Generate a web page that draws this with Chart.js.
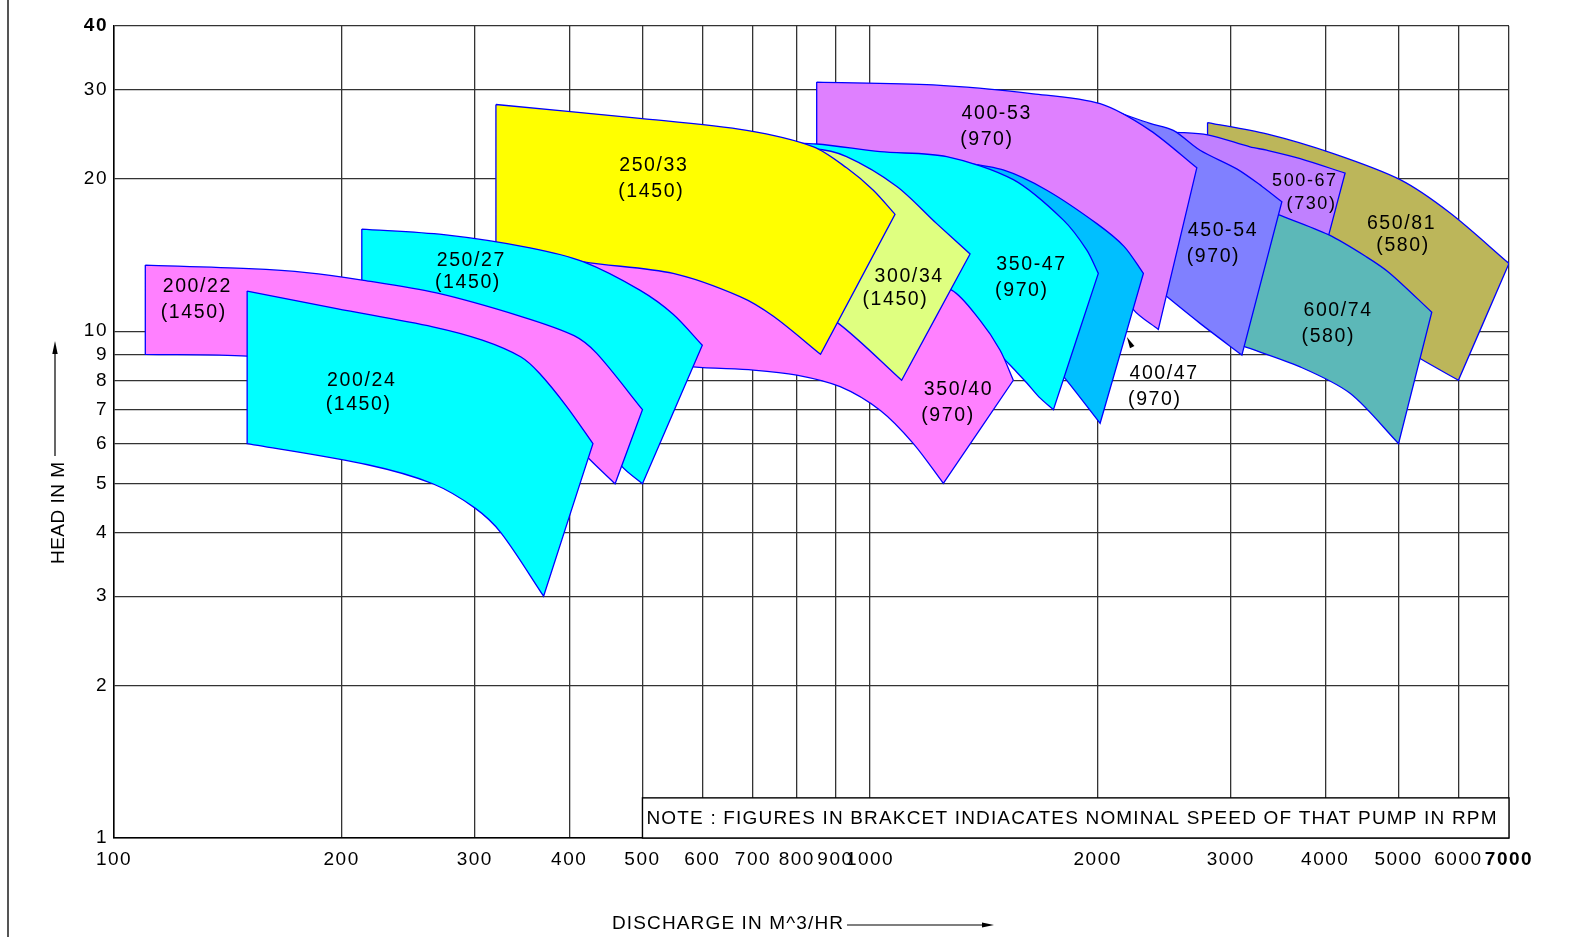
<!DOCTYPE html>
<html>
<head>
<meta charset="utf-8">
<title>Pump selection chart</title>
<script src="https://cdn.jsdelivr.net/npm/chart.js@4.4.1/dist/chart.umd.min.js"></script>
<style>
  html, body { margin: 0; padding: 0; background: #fff; overflow: hidden; }
  #wrap { position: relative; width: 1583px; height: 937px; }
</style>
</head>
<body>
<div id="wrap"><canvas id="c" width="1583" height="937"></canvas></div>
<script>
// ---------------- data (discharge m^3/hr, head m) ----------------
const xTicks = [100, 200, 300, 400, 500, 600, 700, 800, 900, 1000, 2000, 3000, 4000, 5000, 6000, 7000];
const yTicks = [1, 2, 3, 4, 5, 6, 7, 8, 9, 10, 20, 30, 40];

const pumpModels = ['200/22', '200/24', '250/27', '250/33', '300/34', '350/40', '350-47', '400/47', '400-53', '450-54', '500-67', '600/74', '650/81'];
const pumpSpeeds = ['(1450)', '(1450)', '(1450)', '(1450)', '(1450)', '(970)', '(970)', '(970)', '(970)', '(970)', '(730)', '(580)', '(580)'];

// outline of each operating region: top curve (left->right), right edge, bottom curve (right->left)
const pump_200_22 = [[110,13.5],[150.8,13.28],[179.7,13.05],[214,12.6],[267,11.9],[345,10.7],[406,9.8],[435,9.04],[500,7.0],[460,5.0],[425,5.6],[400,6.2],[360,6.9],[310,7.5],[260,8.1],[200,8.6],[150,8.93],[110,9.0]];
const pump_200_24 = [[150,12.0],[197,11.08],[264,10.2],[307,9.6],[345,8.9],[365.6,8.25],[397,7.1],[430,6.0],[370,3.0],[325,4.0],[300,4.48],[264,5.0],[216.5,5.45],[150,6.0]];
const pump_250_27 = [[212.7,15.9],[273,15.5],[355,14.6],[418,13.7],[496,12.05],[549,10.8],[600,9.38],[500,5.0],[469.6,5.41],[430,6.5],[380,8.0],[300,9.3],[212.7,10.0]];
const pump_250_33 = [[320,28.0],[496,26.3],[687,24.9],[842,23.1],[931,21.0],[1010,18.97],[1079,17.0],[860,9.0],[745,10.7],[673,11.7],[549,13.0],[418,13.7],[320,14.8]];
const pump_300_34 = [[650,22.8],[842,22.9],[931,22.1],[1085,19.3],[1225,16.3],[1356,14.2],[1101,8.0],[908,10.36],[780,11.8],[650,12.5]];
const pump_350_40 = [[400,14.0],[500,13.8],[650,13.3],[850,12.8],[1000,12.5],[1150,12.3],[1282,12.05],[1398,10.5],[1486,9.17],[1547,8.0],[1250,5.01],[1141,6.0],[1031,6.98],[913,7.77],[800,8.19],[701,8.38],[584,8.5],[500,8.8],[400,9.0]];
const pump_350_47 = [[700,23.6],[850,23.4],[1031,22.6],[1263,22.1],[1547,19.9],[1802,16.56],[1935,14.45],[2004,13.0],[1748,7.0],[1672,7.42],[1612,7.9],[1547,8.44],[1486,9.0],[1400,10.2],[1282,11.9],[1150,13.5],[1000,14.8],[850,15.0],[700,15.0]];
const pump_400_47 = [[900,22.9],[1100,22.3],[1300,21.6],[1500,20.8],[1713,18.97],[1995,16.3],[2167,14.7],[2299,13.0],[2015,6.58],[1811,8.07],[1700,9.0],[1500,11.5],[1200,14.5],[900,16.0]];
const pump_400_53 = [[850,31.0],[1212,30.6],[1644,29.4],[2015,28.1],[2346,24.9],[2705,21.0],[2406,10.08],[2230,11.03],[2000,14.2],[1700,17.8],[1400,20.5],[1100,22.0],[850,23.0]];
const pump_450_54 = [[1900,27.9],[2015,27.7],[2346,25.7],[2518,24.9],[2732,22.75],[3055,20.9],[3300,19.3],[3505,18.0],[3103,8.97],[2732,10.36],[2469,11.7],[2200,13.5],[1900,17.0]];
const pump_500_67 = [[2518,24.7],[2795,24.4],[3181,23.1],[3347,22.75],[3706,21.9],[4249,20.5],[4039,15.4],[3841,11.5],[3400,12.5],[2900,13.5],[2518,14.5]];
const pump_600_74 = [[3460,17.0],[4039,15.5],[4540,14.0],[4873,13.0],[5533,10.9],[5000,6.0],[4314,7.54],[3706,8.5],[3110,9.35]];
const pump_650_81 = [[2795,25.8],[3347,24.5],[4101,22.4],[5024,19.9],[5851,17.1],[7000,13.6],[6000,8.0],[5339,8.83],[5000,9.4],[4300,11.0],[3500,13.5],[2795,16.0]];

const outlines = [pump_200_22, pump_200_24, pump_250_27, pump_250_33, pump_300_34, pump_350_40, pump_350_47, pump_400_47, pump_400_53, pump_450_54, pump_500_67, pump_600_74, pump_650_81];
// index of the top-right and bottom-right corner in each outline
const rightCorners = [[8,9],[7,8],[6,7],[6,7],[5,6],[9,10],[7,8],[7,8],[5,6],[7,8],[5,7],[4,5],[5,6]];

// where each label sits (data coordinates)
const modelAt = [[128.5,12.22],[212,7.98],[296,13.75],[516,21.26],[1123,12.8],[1305,7.67],[1630,13.5],[2441,8.25],[1466,26.88],[2920,15.77],[3748,19.8],[4147,10.97],[5031,16.3]];
const speedAt = [[127.1,10.88],[210,7.17],[293,12.45],[512,18.89],[1077,11.55],[1264,6.8],[1583,12.0],[2373,7.33],[1423,23.88],[2837,14.0],[3825,17.8],[4025,9.74],[5054,14.73]];

const noteText = 'NOTE : FIGURES IN BRAKCET INDIACATES NOMINAL SPEED OF THAT PUMP IN RPM';
const xTitle = 'DISCHARGE IN M^3/HR';
const yTitle = 'HEAD IN M';

// ---------------- styles ----------------
const pumpColors = ['#ff80ff','#00ffff','#00ffff','#ffff00','#dfff80','#ff80ff','#00ffff','#00bfff','#df80ff','#8080ff','#c080ff','#5cb8b8','#bcb65a'];
const backToFront = [12, 10, 11, 9, 8, 7, 6, 5, 4, 3, 2, 0, 1];
const FAMILY = "'Liberation Sans', Arial, Helvetica, sans-serif";

const datasets = backToFront.map((idx, i) => {
  const src = outlines[idx];
  const corners = new Set([0, rightCorners[idx][0], rightCorners[idx][1], src.length - 1]);
  const pts = [];
  src.forEach((p, j) => {
    pts.push({ x: p[0], y: p[1] });
    if (corners.has(j)) pts.push({ x: p[0], y: p[1] });   // keep corners sharp
  });
  pts.push({ x: src[0][0], y: src[0][1] });
  return {
    label: pumpModels[idx] + ' ' + pumpSpeeds[idx],
    data: pts,
    showLine: true,
    fill: 'shape',
    backgroundColor: pumpColors[idx],
    borderColor: '#0000ff',
    borderWidth: 1.3,
    pointRadius: 0,
    pointHoverRadius: 0,
    tension: 0.3,
    order: backToFront.length - i
  };
});

function setSpacing(ctx, px) {
  if ('letterSpacing' in ctx) ctx.letterSpacing = px + 'px';
}
function fittedText(ctx, text, x, y, width) {
  setSpacing(ctx, 0);
  const w = ctx.measureText(text).width;
  const sp = Math.max(0, (width - w) / (text.length - 1));
  setSpacing(ctx, sp);
  ctx.textAlign = 'left';
  ctx.fillText(text, x, y);
  setSpacing(ctx, 0);
}

const decor = {
  id: 'decor',
  beforeDraw(chart) {
    setSpacing(chart.ctx, 1.5);
  },
  beforeDatasetsDraw(chart) {
    const ctx = chart.ctx;
    const xs = chart.scales.x, ys = chart.scales.y;
    // note box
    const l = xs.getPixelForValue(500), r = xs.getPixelForValue(7000);
    const t = ys.getPixelForValue(1.2), b = ys.getPixelForValue(1);
    ctx.save();
    ctx.fillStyle = '#fff';
    ctx.fillRect(l, t, r - l, b - t);
    ctx.strokeStyle = '#000';
    ctx.lineWidth = 1.4;
    ctx.strokeRect(l, t, r - l, b - t);
    ctx.fillStyle = '#000';
    ctx.font = '19px ' + FAMILY;
    ctx.textBaseline = 'middle';
    fittedText(ctx, noteText, l + 4, (t + b) / 2 + 1, 850);
    ctx.restore();
  },
  afterDraw(chart) {
    const ctx = chart.ctx;
    const xs = chart.scales.x, ys = chart.scales.y;
    ctx.save();
    setSpacing(ctx, 0);
    // pump labels
    ctx.fillStyle = '#000';
    ctx.textBaseline = 'middle';
    ctx.textAlign = 'center';
    pumpModels.forEach((m, i) => {
      const size = (i === 10) ? 18 : 19.5;
      ctx.font = size + 'px ' + FAMILY;
      setSpacing(ctx, 1.6);
      ctx.fillText(m, xs.getPixelForValue(modelAt[i][0]) + 1, ys.getPixelForValue(modelAt[i][1]));
      ctx.fillText(pumpSpeeds[i], xs.getPixelForValue(speedAt[i][0]) + 1, ys.getPixelForValue(speedAt[i][1]));
    });
    setSpacing(ctx, 0);
    // small pointer near 400/47
    const tx = xs.getPixelForValue(2186), ty = ys.getPixelForValue(9.74);
    const bx = xs.getPixelForValue(2222), by = ys.getPixelForValue(9.3);
    const ang = Math.atan2(by - ty, bx - tx);
    ctx.beginPath();
    ctx.moveTo(tx, ty);
    ctx.lineTo(bx + Math.sin(ang) * 2.5, by - Math.cos(ang) * 2.5);
    ctx.lineTo(bx - Math.sin(ang) * 2.5, by + Math.cos(ang) * 2.5);
    ctx.closePath();
    ctx.fill();

    // x title + arrow
    ctx.font = '19px ' + FAMILY;
    ctx.textBaseline = 'middle';
    fittedText(ctx, xTitle, 612, 924, 231);
    ctx.strokeStyle = '#000';
    ctx.lineWidth = 1.2;
    ctx.beginPath();
    ctx.moveTo(847, 925); ctx.lineTo(984, 925);
    ctx.stroke();
    ctx.beginPath();
    ctx.moveTo(994, 925); ctx.lineTo(982, 922.5); ctx.lineTo(982, 927.5); ctx.closePath();
    ctx.fill();

    // y title + arrow
    ctx.save();
    ctx.translate(59, 513);
    ctx.rotate(-Math.PI / 2);
    ctx.textBaseline = 'middle';
    fittedText(ctx, yTitle, -51, 0, 102);
    ctx.restore();
    ctx.beginPath();
    ctx.moveTo(55, 456); ctx.lineTo(55, 352);
    ctx.stroke();
    ctx.beginPath();
    ctx.moveTo(55, 341); ctx.lineTo(52.3, 354); ctx.lineTo(57.7, 354); ctx.closePath();
    ctx.fill();

    // page border at far left
    ctx.strokeStyle = '#555';
    ctx.lineWidth = 2;
    ctx.beginPath();
    ctx.moveTo(8, 0); ctx.lineTo(8, 937);
    ctx.stroke();
    ctx.restore();
  }
};

const tickFont = (c) => ({
  family: FAMILY,
  size: 19,
  weight: (c.tick && (c.tick.value === 40 || c.tick.value === 7000)) ? 'bold' : 'normal'
});

new Chart(document.getElementById('c'), {
  type: 'scatter',
  data: { datasets },
  options: {
    responsive: false,
    animation: false,
    events: [],
    layout: { padding: { left: 0, right: 74, top: 26, bottom: 0 } },
    plugins: {
      legend: { display: false },
      tooltip: { enabled: false },
      title: { display: false },
      filler: { propagate: false }
    },
    scales: {
      x: {
        type: 'logarithmic',
        min: 100,
        max: 7000,
        afterBuildTicks: (s) => { s.ticks = xTicks.map(v => ({ value: v })); },
        afterFit: (s) => { s.height = 99; },
        ticks: {
          autoSkip: false,
          maxRotation: 0,
          minRotation: 0,
          padding: 10,
          color: '#000',
          font: tickFont,
          callback: (v) => String(v)
        },
        grid: { color: '#333', lineWidth: 1.3, drawTicks: false },
        border: { display: true, color: '#000', width: 1.5 }
      },
      y: {
        type: 'logarithmic',
        min: 1,
        max: 40,
        afterBuildTicks: (s) => { s.ticks = yTicks.map(v => ({ value: v })); },
        afterFit: (s) => { s.width = 114; },
        ticks: {
          autoSkip: false,
          padding: 6,
          color: '#000',
          font: tickFont,
          callback: (v) => String(v)
        },
        grid: { color: '#333', lineWidth: 1.3, drawTicks: false },
        border: { display: true, color: '#000', width: 1.5 }
      }
    }
  },
  plugins: [decor]
});
</script>
</body>
</html>
